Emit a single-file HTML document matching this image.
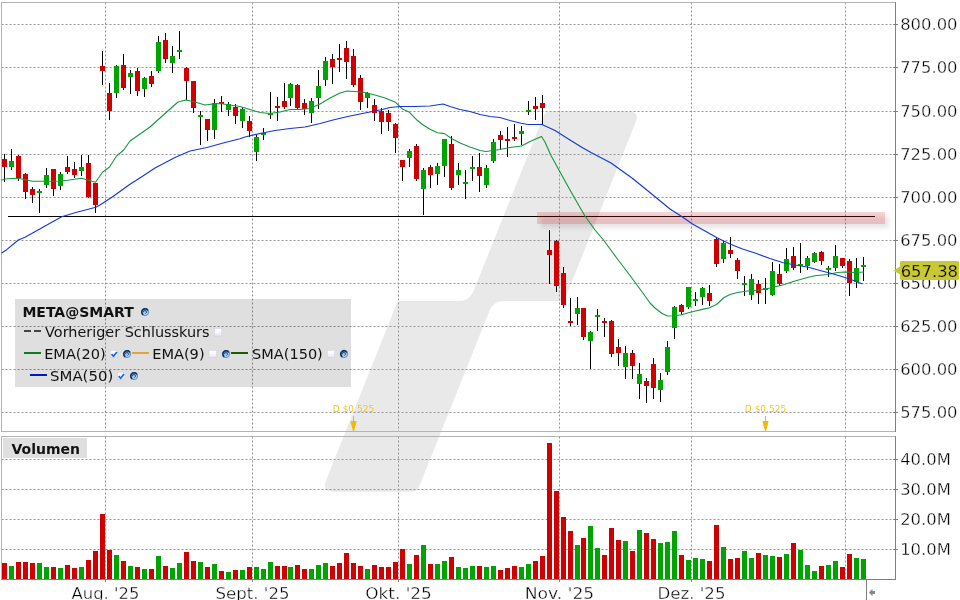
<!DOCTYPE html><html><head><meta charset="utf-8"><title>META Chart</title>
<style>html,body{margin:0;padding:0;background:#fff;}body{width:960px;height:600px;overflow:hidden;position:relative;font-family:"DejaVu Sans","Liberation Sans",sans-serif;}svg{position:absolute;left:0;top:0;display:block}text{font-family:"DejaVu Sans","Liberation Sans",sans-serif;}</style></head><body>
<svg width="960" height="600" viewBox="0 0 960 600">
<defs><filter id="sh" x="-5%" y="-50%" width="110%" height="250%"><feGaussianBlur stdDeviation="2"/></filter>
<radialGradient id="gl" cx="0.65" cy="0.7" r="0.75"><stop offset="0" stop-color="#c4e0f8"/><stop offset="0.55" stop-color="#84b6e4"/><stop offset="1" stop-color="#3c70b0"/></radialGradient><linearGradient id="cbg" x1="0" y1="0" x2="0" y2="1"><stop offset="0" stop-color="#ffffff"/><stop offset="0.45" stop-color="#f8f8ff"/><stop offset="1" stop-color="#e0e0f6"/></linearGradient></defs>
<rect width="960" height="600" fill="#fff"/>
<path d="M543.5 116.2 Q545.5 111.2 550.9 111.2 L628.2 111.2 Q640.0 111.2 635.6 122.2 L564.9 299.1 Q564.1 301.0 562.1 301.0 L504.2 301.0 Q493.4 301.0 489.4 311.1 L419.1 486.7 Q417.1 491.7 411.7 491.7 L333.3 491.7 Q321.5 491.7 325.9 480.7 L396.8 303.5 Q397.8 301.0 400.5 301.0 L458.8 301.0 Q469.6 301.0 473.6 290.9 Z" fill="#e9e9e9"/>
<g stroke="#949494" stroke-width="1" stroke-dasharray="2 2">
<line x1="1.500" y1="24.5" x2="895" y2="24.5"/>
<line x1="1.500" y1="67.5" x2="895" y2="67.5"/>
<line x1="1.500" y1="111.5" x2="895" y2="111.5"/>
<line x1="1.500" y1="154.5" x2="895" y2="154.5"/>
<line x1="1.500" y1="197.5" x2="895" y2="197.5"/>
<line x1="1.500" y1="240.5" x2="895" y2="240.5"/>
<line x1="1.500" y1="283.5" x2="895" y2="283.5"/>
<line x1="1.500" y1="326.5" x2="895" y2="326.5"/>
<line x1="1.500" y1="369.5" x2="895" y2="369.5"/>
<line x1="1.500" y1="412.5" x2="895" y2="412.5"/>
<line x1="1.500" y1="459.5" x2="895" y2="459.5"/>
<line x1="1.500" y1="489.5" x2="895" y2="489.5"/>
<line x1="1.500" y1="519.5" x2="895" y2="519.5"/>
<line x1="1.500" y1="549.5" x2="895" y2="549.5"/>
<line x1="105.5" y1="2.500" x2="105.5" y2="431"/>
<line x1="105.5" y1="436.500" x2="105.5" y2="579"/>
<line x1="252.5" y1="2.500" x2="252.5" y2="431"/>
<line x1="252.5" y1="436.500" x2="252.5" y2="579"/>
<line x1="398.5" y1="2.500" x2="398.5" y2="431"/>
<line x1="398.5" y1="436.500" x2="398.5" y2="579"/>
<line x1="559.5" y1="2.500" x2="559.5" y2="431"/>
<line x1="559.5" y1="436.500" x2="559.5" y2="579"/>
<line x1="691.5" y1="2.500" x2="691.5" y2="431"/>
<line x1="691.5" y1="436.500" x2="691.5" y2="579"/>
<line x1="845.5" y1="2.500" x2="845.5" y2="431"/>
<line x1="845.5" y1="436.500" x2="845.5" y2="579"/>
</g>
<g shape-rendering="crispEdges">
<rect x="1" y="2" width="895" height="1" fill="#b4b4b4"/>
<rect x="1" y="2" width="1" height="430" fill="#b4b4b4"/>
<rect x="1" y="431" width="895" height="1" fill="#b4b4b4"/>
<rect x="1" y="436" width="895" height="1" fill="#b4b4b4"/>
<rect x="1" y="436" width="1" height="144" fill="#b4b4b4"/>
<rect x="895" y="2" width="1" height="430" fill="#808080"/>
<rect x="895" y="436" width="1" height="144" fill="#808080"/>
<rect x="1" y="579" width="895" height="1" fill="#808080"/>
<rect x="893" y="24" width="5" height="1" fill="#808080"/>
<rect x="893" y="67" width="5" height="1" fill="#808080"/>
<rect x="893" y="111" width="5" height="1" fill="#808080"/>
<rect x="893" y="154" width="5" height="1" fill="#808080"/>
<rect x="893" y="197" width="5" height="1" fill="#808080"/>
<rect x="893" y="240" width="5" height="1" fill="#808080"/>
<rect x="893" y="283" width="5" height="1" fill="#808080"/>
<rect x="893" y="326" width="5" height="1" fill="#808080"/>
<rect x="893" y="369" width="5" height="1" fill="#808080"/>
<rect x="893" y="412" width="5" height="1" fill="#808080"/>
<rect x="893" y="459" width="5" height="1" fill="#808080"/>
<rect x="893" y="489" width="5" height="1" fill="#808080"/>
<rect x="893" y="519" width="5" height="1" fill="#808080"/>
<rect x="893" y="549" width="5" height="1" fill="#808080"/>
<rect x="105" y="579" width="1" height="3" fill="#808080"/>
<rect x="252" y="579" width="1" height="3" fill="#808080"/>
<rect x="398" y="579" width="1" height="3" fill="#808080"/>
<rect x="559" y="579" width="1" height="3" fill="#808080"/>
<rect x="691" y="579" width="1" height="3" fill="#808080"/>
<rect x="866" y="579" width="1" height="21" fill="#808080"/>
<rect x="2" y="563" width="5" height="16" fill="#d00000"/>
<rect x="9" y="566" width="5" height="13" fill="#00a400"/>
<rect x="16" y="562" width="5" height="17" fill="#d00000"/>
<rect x="23" y="562" width="5" height="17" fill="#d00000"/>
<rect x="30" y="563" width="5" height="16" fill="#d00000"/>
<rect x="37" y="563" width="5" height="16" fill="#00a400"/>
<rect x="44" y="567" width="5" height="12" fill="#00a400"/>
<rect x="51" y="567" width="5" height="12" fill="#d00000"/>
<rect x="58" y="568" width="5" height="11" fill="#00a400"/>
<rect x="65" y="565" width="5" height="14" fill="#d00000"/>
<rect x="72" y="568" width="5" height="11" fill="#d00000"/>
<rect x="79" y="567" width="5" height="12" fill="#00a400"/>
<rect x="86" y="560" width="5" height="19" fill="#d00000"/>
<rect x="93" y="551" width="5" height="28" fill="#d00000"/>
<rect x="100" y="514" width="5" height="65" fill="#d00000"/>
<rect x="107" y="550" width="5" height="29" fill="#d00000"/>
<rect x="114" y="555" width="5" height="24" fill="#00a400"/>
<rect x="121" y="561" width="5" height="18" fill="#d00000"/>
<rect x="128" y="566" width="5" height="13" fill="#00a400"/>
<rect x="135" y="567" width="5" height="12" fill="#d00000"/>
<rect x="142" y="569" width="5" height="10" fill="#00a400"/>
<rect x="149" y="569" width="5" height="10" fill="#d00000"/>
<rect x="156" y="556" width="5" height="23" fill="#00a400"/>
<rect x="163" y="566" width="5" height="13" fill="#d00000"/>
<rect x="170" y="568" width="5" height="11" fill="#00a400"/>
<rect x="177" y="563" width="5" height="16" fill="#00a400"/>
<rect x="184" y="552" width="5" height="27" fill="#d00000"/>
<rect x="191" y="561" width="5" height="18" fill="#d00000"/>
<rect x="198" y="562" width="5" height="17" fill="#00a400"/>
<rect x="205" y="567" width="5" height="12" fill="#d00000"/>
<rect x="212" y="564" width="5" height="15" fill="#00a400"/>
<rect x="219" y="571" width="5" height="8" fill="#d00000"/>
<rect x="226" y="572" width="5" height="7" fill="#00a400"/>
<rect x="233" y="570" width="5" height="9" fill="#d00000"/>
<rect x="240" y="570" width="5" height="9" fill="#00a400"/>
<rect x="247" y="567" width="5" height="12" fill="#d00000"/>
<rect x="254" y="567" width="5" height="12" fill="#00a400"/>
<rect x="261" y="569" width="5" height="10" fill="#00a400"/>
<rect x="268" y="562" width="5" height="17" fill="#00a400"/>
<rect x="275" y="566" width="5" height="13" fill="#d00000"/>
<rect x="282" y="566" width="5" height="13" fill="#d00000"/>
<rect x="288" y="567" width="5" height="12" fill="#00a400"/>
<rect x="295" y="565" width="5" height="14" fill="#d00000"/>
<rect x="302" y="569" width="5" height="10" fill="#d00000"/>
<rect x="309" y="569" width="5" height="10" fill="#00a400"/>
<rect x="316" y="565" width="5" height="14" fill="#00a400"/>
<rect x="323" y="563" width="5" height="16" fill="#00a400"/>
<rect x="330" y="566" width="5" height="13" fill="#d00000"/>
<rect x="337" y="563" width="5" height="16" fill="#d00000"/>
<rect x="344" y="553" width="5" height="26" fill="#d00000"/>
<rect x="351" y="563" width="5" height="16" fill="#d00000"/>
<rect x="358" y="566" width="5" height="13" fill="#d00000"/>
<rect x="365" y="569" width="5" height="10" fill="#00a400"/>
<rect x="372" y="565" width="5" height="14" fill="#d00000"/>
<rect x="379" y="567" width="5" height="12" fill="#d00000"/>
<rect x="386" y="567" width="5" height="12" fill="#d00000"/>
<rect x="393" y="562" width="5" height="17" fill="#d00000"/>
<rect x="400" y="549" width="5" height="30" fill="#d00000"/>
<rect x="407" y="564" width="5" height="15" fill="#00a400"/>
<rect x="414" y="555" width="5" height="24" fill="#d00000"/>
<rect x="421" y="545" width="5" height="34" fill="#00a400"/>
<rect x="428" y="564" width="5" height="15" fill="#d00000"/>
<rect x="435" y="564" width="5" height="15" fill="#00a400"/>
<rect x="442" y="561" width="5" height="18" fill="#00a400"/>
<rect x="449" y="557" width="5" height="22" fill="#d00000"/>
<rect x="456" y="567" width="5" height="12" fill="#00a400"/>
<rect x="463" y="568" width="5" height="11" fill="#00a400"/>
<rect x="470" y="566" width="5" height="13" fill="#00a400"/>
<rect x="477" y="566" width="5" height="13" fill="#d00000"/>
<rect x="484" y="567" width="5" height="12" fill="#00a400"/>
<rect x="491" y="566" width="5" height="13" fill="#00a400"/>
<rect x="498" y="570" width="5" height="9" fill="#d00000"/>
<rect x="505" y="568" width="5" height="11" fill="#d00000"/>
<rect x="512" y="566" width="5" height="13" fill="#d00000"/>
<rect x="519" y="567" width="5" height="12" fill="#00a400"/>
<rect x="526" y="564" width="5" height="15" fill="#00a400"/>
<rect x="533" y="561" width="5" height="18" fill="#d00000"/>
<rect x="540" y="556" width="5" height="23" fill="#d00000"/>
<rect x="547" y="443" width="5" height="136" fill="#d00000"/>
<rect x="554" y="491" width="5" height="88" fill="#d00000"/>
<rect x="561" y="517" width="5" height="62" fill="#d00000"/>
<rect x="568" y="531" width="5" height="48" fill="#d00000"/>
<rect x="575" y="545" width="5" height="34" fill="#00a400"/>
<rect x="581" y="538" width="5" height="41" fill="#d00000"/>
<rect x="588" y="526" width="5" height="53" fill="#00a400"/>
<rect x="595" y="548" width="5" height="31" fill="#00a400"/>
<rect x="602" y="555" width="5" height="24" fill="#d00000"/>
<rect x="609" y="528" width="5" height="51" fill="#d00000"/>
<rect x="616" y="540" width="5" height="39" fill="#d00000"/>
<rect x="623" y="541" width="5" height="38" fill="#00a400"/>
<rect x="630" y="551" width="5" height="28" fill="#d00000"/>
<rect x="637" y="530" width="5" height="49" fill="#00a400"/>
<rect x="644" y="533" width="5" height="46" fill="#d00000"/>
<rect x="651" y="539" width="5" height="40" fill="#d00000"/>
<rect x="658" y="543" width="5" height="36" fill="#00a400"/>
<rect x="665" y="542" width="5" height="37" fill="#00a400"/>
<rect x="672" y="531" width="5" height="48" fill="#00a400"/>
<rect x="679" y="555" width="5" height="24" fill="#d00000"/>
<rect x="686" y="560" width="5" height="19" fill="#00a400"/>
<rect x="693" y="558" width="5" height="21" fill="#00a400"/>
<rect x="700" y="559" width="5" height="20" fill="#00a400"/>
<rect x="707" y="561" width="5" height="18" fill="#d00000"/>
<rect x="714" y="525" width="5" height="54" fill="#d00000"/>
<rect x="721" y="547" width="5" height="32" fill="#00a400"/>
<rect x="728" y="559" width="5" height="20" fill="#d00000"/>
<rect x="735" y="558" width="5" height="21" fill="#d00000"/>
<rect x="742" y="551" width="5" height="28" fill="#00a400"/>
<rect x="749" y="558" width="5" height="21" fill="#00a400"/>
<rect x="756" y="553" width="5" height="26" fill="#d00000"/>
<rect x="763" y="555" width="5" height="24" fill="#00a400"/>
<rect x="770" y="556" width="5" height="23" fill="#00a400"/>
<rect x="777" y="557" width="5" height="22" fill="#d00000"/>
<rect x="784" y="554" width="5" height="25" fill="#00a400"/>
<rect x="791" y="543" width="5" height="36" fill="#d00000"/>
<rect x="798" y="550" width="5" height="29" fill="#00a400"/>
<rect x="805" y="565" width="5" height="14" fill="#00a400"/>
<rect x="812" y="571" width="5" height="8" fill="#00a400"/>
<rect x="819" y="566" width="5" height="13" fill="#d00000"/>
<rect x="826" y="565" width="5" height="14" fill="#00a400"/>
<rect x="833" y="561" width="5" height="18" fill="#00a400"/>
<rect x="840" y="567" width="5" height="12" fill="#d00000"/>
<rect x="847" y="554" width="5" height="25" fill="#d00000"/>
<rect x="854" y="558" width="5" height="21" fill="#00a400"/>
<rect x="861" y="559" width="5" height="20" fill="#00a400"/>
</g>
<rect x="8" y="216" width="867" height="1" fill="#000" shape-rendering="crispEdges"/>
<rect x="541" y="216" width="348" height="12" fill="#000" opacity="0.095" filter="url(#sh)"/>
<rect x="537" y="212" width="348" height="12" fill="#e62828" fill-opacity="0.20" shape-rendering="crispEdges"/>
<g shape-rendering="crispEdges">
<rect x="4" y="154" width="1" height="28" fill="#000"/>
<rect x="2" y="159" width="5" height="8" fill="#d00000"/>
<rect x="11" y="149" width="1" height="21" fill="#000"/>
<rect x="9" y="161" width="5" height="6" fill="#00a400"/>
<rect x="18" y="154.5" width="1" height="26" fill="#000"/>
<rect x="16" y="156" width="5" height="22" fill="#d00000"/>
<rect x="25" y="173" width="1" height="26" fill="#000"/>
<rect x="23" y="174" width="5" height="18" fill="#d00000"/>
<rect x="32" y="187" width="1" height="16" fill="#000"/>
<rect x="30" y="189" width="5" height="6" fill="#d00000"/>
<rect x="39" y="189" width="1" height="24" fill="#000"/>
<rect x="37" y="190.5" width="5" height="2.5" fill="#00a400"/>
<rect x="46" y="167.5" width="1" height="20.5" fill="#000"/>
<rect x="44" y="175" width="5" height="10" fill="#00a400"/>
<rect x="53" y="169" width="1" height="27" fill="#000"/>
<rect x="51" y="169" width="5" height="20" fill="#d00000"/>
<rect x="60" y="172" width="1" height="18" fill="#000"/>
<rect x="58" y="174" width="5" height="12" fill="#00a400"/>
<rect x="67" y="156" width="1" height="18" fill="#000"/>
<rect x="65" y="167" width="5" height="5" fill="#d00000"/>
<rect x="74" y="162" width="1" height="15.5" fill="#000"/>
<rect x="72" y="169" width="5" height="6" fill="#d00000"/>
<rect x="81" y="155" width="1" height="21" fill="#000"/>
<rect x="79" y="167" width="5" height="4" fill="#00a400"/>
<rect x="88" y="155" width="1" height="42.5" fill="#000"/>
<rect x="86" y="163" width="5" height="34" fill="#d00000"/>
<rect x="95" y="182.5" width="1" height="30.5" fill="#000"/>
<rect x="93" y="183" width="5" height="22" fill="#d00000"/>
<rect x="102" y="51" width="1" height="34" fill="#000"/>
<rect x="100" y="66" width="5" height="5" fill="#d00000"/>
<rect x="109" y="83" width="1" height="36.5" fill="#000"/>
<rect x="107" y="93" width="5" height="18" fill="#d00000"/>
<rect x="116" y="65" width="1" height="32.5" fill="#000"/>
<rect x="114" y="65.5" width="5" height="27.5" fill="#00a400"/>
<rect x="123" y="54" width="1" height="35.5" fill="#000"/>
<rect x="121" y="65" width="5" height="23" fill="#d00000"/>
<rect x="130" y="70" width="1" height="24" fill="#000"/>
<rect x="128" y="73" width="5" height="4" fill="#00a400"/>
<rect x="137" y="67.5" width="1" height="28" fill="#000"/>
<rect x="135" y="71" width="5" height="20" fill="#d00000"/>
<rect x="144" y="77" width="1" height="20" fill="#000"/>
<rect x="142" y="78" width="5" height="11" fill="#00a400"/>
<rect x="151" y="71" width="1" height="16" fill="#000"/>
<rect x="149" y="76" width="5" height="8" fill="#d00000"/>
<rect x="158" y="36" width="1" height="37" fill="#000"/>
<rect x="156" y="42" width="5" height="29" fill="#00a400"/>
<rect x="165" y="32.5" width="1" height="30" fill="#000"/>
<rect x="163" y="40" width="5" height="19" fill="#d00000"/>
<rect x="172" y="46" width="1" height="27" fill="#000"/>
<rect x="170" y="56" width="5" height="7" fill="#00a400"/>
<rect x="179" y="31" width="1" height="28" fill="#000"/>
<rect x="177" y="50" width="5" height="2" fill="#00a400"/>
<rect x="186" y="67" width="1" height="33" fill="#000"/>
<rect x="184" y="67.5" width="5" height="13.5" fill="#d00000"/>
<rect x="193" y="81" width="1" height="31.5" fill="#000"/>
<rect x="191" y="81" width="5" height="27" fill="#d00000"/>
<rect x="200" y="111" width="1" height="34" fill="#000"/>
<rect x="198" y="115" width="5" height="2" fill="#00a400"/>
<rect x="207" y="119" width="1" height="22" fill="#000"/>
<rect x="205" y="119" width="5" height="11" fill="#d00000"/>
<rect x="214" y="99" width="1" height="40" fill="#000"/>
<rect x="212" y="103" width="5" height="27" fill="#00a400"/>
<rect x="221" y="96" width="1" height="16" fill="#000"/>
<rect x="219" y="102" width="5" height="2" fill="#d00000"/>
<rect x="228" y="102" width="1" height="14" fill="#000"/>
<rect x="226" y="104" width="5" height="6" fill="#00a400"/>
<rect x="235" y="104" width="1" height="20" fill="#000"/>
<rect x="233" y="107" width="5" height="9" fill="#d00000"/>
<rect x="242" y="107" width="1" height="21" fill="#000"/>
<rect x="240" y="109" width="5" height="12" fill="#00a400"/>
<rect x="249" y="116" width="1" height="21" fill="#000"/>
<rect x="247" y="121" width="5" height="10" fill="#d00000"/>
<rect x="256" y="135" width="1" height="26" fill="#000"/>
<rect x="254" y="137" width="5" height="15" fill="#00a400"/>
<rect x="263" y="128" width="1" height="12" fill="#000"/>
<rect x="261" y="133" width="5" height="1.5" fill="#00a400"/>
<rect x="270" y="92" width="1" height="27" fill="#000"/>
<rect x="268" y="113" width="5" height="2" fill="#00a400"/>
<rect x="277" y="97" width="1" height="24" fill="#000"/>
<rect x="275" y="106" width="5" height="2" fill="#d00000"/>
<rect x="284" y="83" width="1" height="26" fill="#000"/>
<rect x="282" y="101" width="5" height="6" fill="#d00000"/>
<rect x="290" y="82.5" width="1" height="23.5" fill="#000"/>
<rect x="288" y="84" width="5" height="14" fill="#00a400"/>
<rect x="297" y="83.5" width="1" height="26" fill="#000"/>
<rect x="295" y="85" width="5" height="23" fill="#d00000"/>
<rect x="304" y="99" width="1" height="16" fill="#000"/>
<rect x="302" y="103" width="5" height="6" fill="#d00000"/>
<rect x="311" y="97.5" width="1" height="25.5" fill="#000"/>
<rect x="309" y="101" width="5" height="12" fill="#00a400"/>
<rect x="318" y="70" width="1" height="39" fill="#000"/>
<rect x="316" y="86" width="5" height="12" fill="#00a400"/>
<rect x="325" y="57" width="1" height="29" fill="#000"/>
<rect x="323" y="61" width="5" height="19" fill="#00a400"/>
<rect x="332" y="54" width="1" height="30" fill="#000"/>
<rect x="330" y="59" width="5" height="8" fill="#d00000"/>
<rect x="339" y="44" width="1" height="28" fill="#000"/>
<rect x="337" y="58" width="5" height="2" fill="#d00000"/>
<rect x="346" y="41" width="1" height="38" fill="#000"/>
<rect x="344" y="48" width="5" height="14" fill="#d00000"/>
<rect x="353" y="49" width="1" height="38" fill="#000"/>
<rect x="351" y="56" width="5" height="29" fill="#d00000"/>
<rect x="360" y="75" width="1" height="35" fill="#000"/>
<rect x="358" y="78" width="5" height="24" fill="#d00000"/>
<rect x="367" y="92" width="1" height="16" fill="#000"/>
<rect x="365" y="93" width="5" height="5" fill="#00a400"/>
<rect x="374" y="99" width="1" height="22" fill="#000"/>
<rect x="372" y="105" width="5" height="8" fill="#d00000"/>
<rect x="381" y="108" width="1" height="26" fill="#000"/>
<rect x="379" y="111" width="5" height="11" fill="#d00000"/>
<rect x="388" y="110" width="1" height="21" fill="#000"/>
<rect x="386" y="113" width="5" height="9" fill="#d00000"/>
<rect x="395" y="123" width="1" height="30" fill="#000"/>
<rect x="393" y="124" width="5" height="14" fill="#d00000"/>
<rect x="402" y="160" width="1" height="21" fill="#000"/>
<rect x="400" y="160" width="5" height="7" fill="#d00000"/>
<rect x="409" y="149" width="1" height="18" fill="#000"/>
<rect x="407" y="151" width="5" height="7" fill="#00a400"/>
<rect x="416" y="144" width="1" height="37" fill="#000"/>
<rect x="414" y="146" width="5" height="33" fill="#d00000"/>
<rect x="423" y="168" width="1" height="47" fill="#000"/>
<rect x="421" y="170" width="5" height="19" fill="#00a400"/>
<rect x="430" y="165" width="1" height="23" fill="#000"/>
<rect x="428" y="167" width="5" height="8" fill="#d00000"/>
<rect x="437" y="163" width="1" height="22" fill="#000"/>
<rect x="435" y="166" width="5" height="8" fill="#00a400"/>
<rect x="444" y="139" width="1" height="38" fill="#000"/>
<rect x="442" y="139" width="5" height="27" fill="#00a400"/>
<rect x="451" y="136" width="1" height="54" fill="#000"/>
<rect x="449" y="144" width="5" height="44" fill="#d00000"/>
<rect x="458" y="163" width="1" height="22" fill="#000"/>
<rect x="456" y="170" width="5" height="5" fill="#00a400"/>
<rect x="465" y="170" width="1" height="29" fill="#000"/>
<rect x="463" y="182" width="5" height="2" fill="#00a400"/>
<rect x="472" y="156" width="1" height="25" fill="#000"/>
<rect x="470" y="167" width="5" height="2" fill="#00a400"/>
<rect x="479" y="153" width="1" height="39" fill="#000"/>
<rect x="477" y="167" width="5" height="9" fill="#d00000"/>
<rect x="486" y="165" width="1" height="23" fill="#000"/>
<rect x="484" y="168" width="5" height="17" fill="#00a400"/>
<rect x="493" y="139" width="1" height="24" fill="#000"/>
<rect x="491" y="142" width="5" height="19" fill="#00a400"/>
<rect x="500" y="131" width="1" height="19" fill="#000"/>
<rect x="498" y="135" width="5" height="5" fill="#d00000"/>
<rect x="507" y="127" width="1" height="30" fill="#000"/>
<rect x="505" y="139" width="5" height="2" fill="#d00000"/>
<rect x="514" y="124" width="1" height="17" fill="#000"/>
<rect x="512" y="137" width="5" height="2" fill="#d00000"/>
<rect x="521" y="126" width="1" height="19" fill="#000"/>
<rect x="519" y="131" width="5" height="3" fill="#00a400"/>
<rect x="528" y="101" width="1" height="14" fill="#000"/>
<rect x="526" y="110" width="5" height="2" fill="#00a400"/>
<rect x="535" y="97" width="1" height="23" fill="#000"/>
<rect x="533" y="106" width="5" height="3" fill="#d00000"/>
<rect x="542" y="95" width="1" height="30" fill="#000"/>
<rect x="540" y="103" width="5" height="5" fill="#d00000"/>
<rect x="549" y="230" width="1" height="54" fill="#000"/>
<rect x="547" y="250" width="5" height="5" fill="#d00000"/>
<rect x="556" y="240" width="1" height="52" fill="#000"/>
<rect x="554" y="241" width="5" height="45" fill="#d00000"/>
<rect x="563" y="267" width="1" height="41" fill="#000"/>
<rect x="561" y="273" width="5" height="32" fill="#d00000"/>
<rect x="570" y="298" width="1" height="28" fill="#000"/>
<rect x="568" y="321" width="5" height="2" fill="#d00000"/>
<rect x="577" y="297" width="1" height="28" fill="#000"/>
<rect x="575" y="308" width="5" height="6" fill="#00a400"/>
<rect x="583" y="308" width="1" height="32" fill="#000"/>
<rect x="581" y="308" width="5" height="29" fill="#d00000"/>
<rect x="590" y="331" width="1" height="38" fill="#000"/>
<rect x="588" y="332" width="5" height="9" fill="#00a400"/>
<rect x="597" y="309" width="1" height="22" fill="#000"/>
<rect x="595" y="315" width="5" height="2" fill="#00a400"/>
<rect x="604" y="318" width="1" height="19" fill="#000"/>
<rect x="602" y="321" width="5" height="2" fill="#d00000"/>
<rect x="611" y="320" width="1" height="37" fill="#000"/>
<rect x="609" y="321" width="5" height="33" fill="#d00000"/>
<rect x="618" y="339" width="1" height="27" fill="#000"/>
<rect x="616" y="347" width="5" height="6" fill="#d00000"/>
<rect x="625" y="346" width="1" height="33" fill="#000"/>
<rect x="623" y="353" width="5" height="14" fill="#00a400"/>
<rect x="632" y="350" width="1" height="29" fill="#000"/>
<rect x="630" y="353" width="5" height="13" fill="#d00000"/>
<rect x="639" y="363" width="1" height="36" fill="#000"/>
<rect x="637" y="374" width="5" height="10" fill="#00a400"/>
<rect x="646" y="378" width="1" height="25" fill="#000"/>
<rect x="644" y="381" width="5" height="5" fill="#d00000"/>
<rect x="653" y="358" width="1" height="41" fill="#000"/>
<rect x="651" y="364" width="5" height="24" fill="#d00000"/>
<rect x="660" y="373" width="1" height="29" fill="#000"/>
<rect x="658" y="380" width="5" height="10" fill="#00a400"/>
<rect x="667" y="341" width="1" height="34" fill="#000"/>
<rect x="665" y="347" width="5" height="25" fill="#00a400"/>
<rect x="674" y="306" width="1" height="33" fill="#000"/>
<rect x="672" y="307" width="5" height="21" fill="#00a400"/>
<rect x="681" y="304" width="1" height="11" fill="#000"/>
<rect x="679" y="305" width="5" height="7" fill="#d00000"/>
<rect x="688" y="287" width="1" height="22" fill="#000"/>
<rect x="686" y="287" width="5" height="20" fill="#00a400"/>
<rect x="695" y="292" width="1" height="14" fill="#000"/>
<rect x="693" y="299" width="5" height="2" fill="#00a400"/>
<rect x="702" y="287" width="1" height="18" fill="#000"/>
<rect x="700" y="288" width="5" height="9" fill="#00a400"/>
<rect x="709" y="285" width="1" height="21" fill="#000"/>
<rect x="707" y="293" width="5" height="8" fill="#d00000"/>
<rect x="716" y="237" width="1" height="30" fill="#000"/>
<rect x="714" y="239" width="5" height="25" fill="#d00000"/>
<rect x="723" y="240.5" width="1" height="22.5" fill="#000"/>
<rect x="721" y="243" width="5" height="16" fill="#00a400"/>
<rect x="730" y="237" width="1" height="21" fill="#000"/>
<rect x="728" y="250" width="5" height="4" fill="#d00000"/>
<rect x="737" y="258" width="1" height="21" fill="#000"/>
<rect x="735" y="260" width="5" height="11" fill="#d00000"/>
<rect x="744" y="276" width="1" height="20" fill="#000"/>
<rect x="742" y="283" width="5" height="2" fill="#00a400"/>
<rect x="751" y="274" width="1" height="26" fill="#000"/>
<rect x="749" y="279" width="5" height="16" fill="#00a400"/>
<rect x="758" y="280" width="1" height="24" fill="#000"/>
<rect x="756" y="284" width="5" height="9" fill="#d00000"/>
<rect x="765" y="278" width="1" height="26" fill="#000"/>
<rect x="763" y="288" width="5" height="2" fill="#00a400"/>
<rect x="772" y="262" width="1" height="34" fill="#000"/>
<rect x="770" y="271" width="5" height="24" fill="#00a400"/>
<rect x="779" y="264" width="1" height="22" fill="#000"/>
<rect x="777" y="274" width="5" height="10" fill="#d00000"/>
<rect x="786" y="248" width="1" height="25" fill="#000"/>
<rect x="784" y="259" width="5" height="12" fill="#00a400"/>
<rect x="793" y="247" width="1" height="23" fill="#000"/>
<rect x="791" y="256" width="5" height="12" fill="#d00000"/>
<rect x="800" y="243" width="1" height="30" fill="#000"/>
<rect x="798" y="264" width="5" height="2" fill="#00a400"/>
<rect x="807" y="256" width="1" height="14" fill="#000"/>
<rect x="805" y="258" width="5" height="8" fill="#00a400"/>
<rect x="814" y="252" width="1" height="11" fill="#000"/>
<rect x="812" y="253" width="5" height="9" fill="#00a400"/>
<rect x="821" y="251" width="1" height="14" fill="#000"/>
<rect x="819" y="252" width="5" height="9" fill="#d00000"/>
<rect x="828" y="266" width="1" height="11" fill="#000"/>
<rect x="826" y="268" width="5" height="2" fill="#00a400"/>
<rect x="835" y="245" width="1" height="26" fill="#000"/>
<rect x="833" y="256" width="5" height="12" fill="#00a400"/>
<rect x="842" y="258" width="1" height="10" fill="#000"/>
<rect x="840" y="258" width="5" height="8" fill="#d00000"/>
<rect x="849" y="259" width="1" height="37" fill="#000"/>
<rect x="847" y="261" width="5" height="22" fill="#d00000"/>
<rect x="856" y="258" width="1" height="30" fill="#000"/>
<rect x="854" y="268" width="5" height="14" fill="#00a400"/>
<rect x="863" y="257" width="1" height="24" fill="#000"/>
<rect x="861" y="265" width="5" height="2" fill="#00a400"/>
</g>
<polyline fill="none" stroke="#12983e" stroke-width="1.1" stroke-linejoin="round" points="1.5,180.3 4.5,179 11.5,178.5 18.5,178.3 25.5,179.8 32.5,181.3 46.5,181.3 60.5,181 67.5,180.3 74.5,179.3 81.5,178.3 88.5,180.3 95.5,182.2 102.5,172.3 109.5,167 116.5,156 123.5,150.3 130,141 140,134 150,127 160,118 170,109 178,102 186,100 195,102 205,105 213,104 220,103.5 230,105 240,106.5 250,109.5 260,112.5 270,113.5 280,112 290,109.5 300,109.5 310,108.5 320,104 330,98 340,93 347,91 355,91.5 365,92.5 375,95 385,98 395.5,102.3 402.5,109 409.5,112.3 416.5,119.7 423.5,125.3 430.5,129.5 437.5,132.7 444.5,133.6 451.5,138.5 460,143 470,147 480,150.5 486,151.5 493,150.5 500,149.5 510,147.5 521.5,146 530,141.5 541.5,136.5 545,142 551,155.5 560,172 570,190 580,207.5 585,216 595,230 603.5,240 616.7,258 630,275.5 642.5,292.5 650,303 655,308 662,313.5 667.5,316 674.5,315.7 681.5,314.7 688.5,312.7 695.5,311 702.5,309.4 709.5,307.8 716.5,304.5 724,297.5 730,294.5 737.5,292.5 747.5,291 760,290 770,288 782.5,285 795,281 807.5,277.5 815,275.75 827.5,274.5 837.5,272.5 845,272 855,272.5 864,272"/>
<polyline fill="none" stroke="#1038d8" stroke-width="1.1" stroke-linejoin="round" points="1.5,253 6.7,249.7 18.3,240 25,237.3 43.3,227 61.7,216.7 76.7,212.3 88.3,209.2 95.8,207.3 100,205 113.3,196.3 130,184.2 143.3,175.8 155,168 175,157.5 190,151 207,147.5 225,142.5 240,138.75 245,137 260,133.5 275,130.5 290,128.5 305,127 320,123.5 335,119.5 350,116 365,113 380,110 390,107.5 400,106.5 415,106.5 430,106 443,104 450,106.5 460,109.5 470,111.5 480,114.5 490,116.5 500,117.5 510,120.5 521,123.3 528,124.5 542,124.5 555,130.5 570,140 583,148 591,152.5 611,163 632,178 645,188.5 659,200 670,209 682.5,217 692.5,224 705,231 717.5,238 730,244 742.5,249 755,253 770,258.5 782.5,262.5 795,265 807.5,267 820,270.5 832.5,273.75 845,277.5 855,281 862.5,284"/>
<text x="353.5" y="411.5" font-size="9" text-anchor="middle" fill="#fbc316">D $0.525</text>
<path d="M353.5 416 V424 M353.5 431 L350.9 421.5 H356.1 Z" stroke="#f5b800" stroke-width="1" fill="#f5b800"/>
<text x="765.5" y="411.5" font-size="9" text-anchor="middle" fill="#fbc316">D $0.525</text>
<path d="M765.5 416 V424 M765.5 431 L762.9 421.5 H768.1 Z" stroke="#f5b800" stroke-width="1" fill="#f5b800"/>
<rect x="15" y="299" width="336" height="87.500" fill="#000" fill-opacity="0.125" shape-rendering="crispEdges"/>
<text x="22.400" y="316.500" font-size="14" font-weight="bold" fill="#111">META@SMART</text>
<text x="45.100" y="337" font-size="14" textLength="164.400" lengthAdjust="spacingAndGlyphs" fill="#111">Vorheriger Schlusskurs</text>
<text x="44.200" y="359" font-size="14" textLength="61.500" lengthAdjust="spacingAndGlyphs" fill="#111">EMA(20)</text>
<text x="152.200" y="359" font-size="14" textLength="52.400" lengthAdjust="spacingAndGlyphs" fill="#111">EMA(9)</text>
<text x="252.100" y="359" font-size="14" textLength="70.700" lengthAdjust="spacingAndGlyphs" fill="#111">SMA(150)</text>
<text x="50.100" y="381" font-size="14" textLength="63.100" lengthAdjust="spacingAndGlyphs" fill="#111">SMA(50)</text>
<g shape-rendering="crispEdges">
<rect x="24" y="330" width="7" height="2" fill="#444"/><rect x="34" y="330" width="7" height="2" fill="#444"/>
<rect x="24" y="352" width="17" height="2" fill="#0a7d1e"/>
<rect x="132" y="352" width="17" height="2" fill="#e0a63a"/>
<rect x="231" y="352" width="17" height="2" fill="#1e5a00"/>
<rect x="30" y="374" width="17" height="2" fill="#0018c0"/>
</g>
<circle cx="145" cy="312" r="3.700" fill="url(#gl)" stroke="#3a6fae" stroke-width="0.6"/>
<path d="M142.7 314.4 A3.300 3.300 0 0 1 147.6 309.9" fill="none" stroke="#17325c" stroke-width="1.500" stroke-linecap="round"/>
<path d="M143.3 311.7 a1.600 1.600 0 1 1 2.200 1.900" fill="none" stroke="#1b3a68" stroke-width="1"/>
<rect x="214.3" y="328.6" width="7.500" height="7.500" fill="url(#cbg)" stroke="#cdcddd" stroke-width="0.5"/>
<rect x="110.3" y="350.3" width="7.500" height="7.500" fill="url(#cbg)" stroke="#cdcddd" stroke-width="0.5"/>
<path d="M111.5 354.1 l2 2.200 l3.400 -4.400" fill="none" stroke="#1466e8" stroke-width="1.700"/>
<circle cx="127" cy="354" r="3.700" fill="url(#gl)" stroke="#3a6fae" stroke-width="0.6"/>
<path d="M124.7 356.4 A3.300 3.300 0 0 1 129.6 351.9" fill="none" stroke="#17325c" stroke-width="1.500" stroke-linecap="round"/>
<path d="M125.3 353.7 a1.600 1.600 0 1 1 2.200 1.900" fill="none" stroke="#1b3a68" stroke-width="1"/>
<rect x="209" y="350.3" width="7.500" height="7.500" fill="url(#cbg)" stroke="#cdcddd" stroke-width="0.5"/>
<circle cx="226" cy="354" r="3.700" fill="url(#gl)" stroke="#3a6fae" stroke-width="0.6"/>
<path d="M223.7 356.4 A3.300 3.300 0 0 1 228.6 351.9" fill="none" stroke="#17325c" stroke-width="1.500" stroke-linecap="round"/>
<path d="M224.3 353.7 a1.600 1.600 0 1 1 2.200 1.900" fill="none" stroke="#1b3a68" stroke-width="1"/>
<rect x="327.2" y="350.3" width="7.500" height="7.500" fill="url(#cbg)" stroke="#cdcddd" stroke-width="0.5"/>
<circle cx="344" cy="354" r="3.700" fill="url(#gl)" stroke="#3a6fae" stroke-width="0.6"/>
<path d="M341.7 356.4 A3.300 3.300 0 0 1 346.6 351.9" fill="none" stroke="#17325c" stroke-width="1.500" stroke-linecap="round"/>
<path d="M342.3 353.7 a1.600 1.600 0 1 1 2.200 1.900" fill="none" stroke="#1b3a68" stroke-width="1"/>
<rect x="117.5" y="372.3" width="7.500" height="7.500" fill="url(#cbg)" stroke="#cdcddd" stroke-width="0.5"/>
<path d="M118.7 376.1 l2 2.200 l3.400 -4.400" fill="none" stroke="#1466e8" stroke-width="1.700"/>
<circle cx="134" cy="376" r="3.700" fill="url(#gl)" stroke="#3a6fae" stroke-width="0.6"/>
<path d="M131.7 378.4 A3.300 3.300 0 0 1 136.6 373.9" fill="none" stroke="#17325c" stroke-width="1.500" stroke-linecap="round"/>
<path d="M132.3 375.7 a1.600 1.600 0 1 1 2.200 1.900" fill="none" stroke="#1b3a68" stroke-width="1"/>
<rect x="3" y="438" width="84" height="20" fill="#000" fill-opacity="0.125" shape-rendering="crispEdges"/>
<text x="11.500" y="454" font-size="14" font-weight="bold" fill="#111">Volumen</text>
<text x="900.200" y="30.3" font-size="16.400" fill="#000" stroke="#fff" stroke-width="0.35">800.00</text>
<text x="900.200" y="73.3" font-size="16.400" fill="#000" stroke="#fff" stroke-width="0.35">775.00</text>
<text x="900.200" y="117.3" font-size="16.400" fill="#000" stroke="#fff" stroke-width="0.35">750.00</text>
<text x="900.200" y="160.3" font-size="16.400" fill="#000" stroke="#fff" stroke-width="0.35">725.00</text>
<text x="900.200" y="203.3" font-size="16.400" fill="#000" stroke="#fff" stroke-width="0.35">700.00</text>
<text x="900.200" y="246.3" font-size="16.400" fill="#000" stroke="#fff" stroke-width="0.35">675.00</text>
<text x="900.200" y="289.3" font-size="16.400" fill="#000" stroke="#fff" stroke-width="0.35">650.00</text>
<text x="900.200" y="332.3" font-size="16.400" fill="#000" stroke="#fff" stroke-width="0.35">625.00</text>
<text x="900.200" y="375.3" font-size="16.400" fill="#000" stroke="#fff" stroke-width="0.35">600.00</text>
<text x="900.200" y="418.3" font-size="16.400" fill="#000" stroke="#fff" stroke-width="0.35">575.00</text>
<text x="900.200" y="465.3" font-size="16.400" fill="#000" stroke="#fff" stroke-width="0.35">40.0M</text>
<text x="900.200" y="495.3" font-size="16.400" fill="#000" stroke="#fff" stroke-width="0.35">30.0M</text>
<text x="900.200" y="525.3" font-size="16.400" fill="#000" stroke="#fff" stroke-width="0.35">20.0M</text>
<text x="900.200" y="555.3" font-size="16.400" fill="#000" stroke="#fff" stroke-width="0.35">10.0M</text>
<text x="105.50" y="599" font-size="16" text-anchor="middle" textLength="67.82" lengthAdjust="spacingAndGlyphs" fill="#000" stroke="#fff" stroke-width="0.35">Aug. '25</text>
<text x="252.55" y="599" font-size="16" text-anchor="middle" textLength="73.95" lengthAdjust="spacingAndGlyphs" fill="#000" stroke="#fff" stroke-width="0.35">Sept. '25</text>
<text x="398.52" y="599" font-size="16" text-anchor="middle" textLength="66.69" lengthAdjust="spacingAndGlyphs" fill="#000" stroke="#fff" stroke-width="0.35">Okt. '25</text>
<text x="559.45" y="599" font-size="16" text-anchor="middle" textLength="69.50" lengthAdjust="spacingAndGlyphs" fill="#000" stroke="#fff" stroke-width="0.35">Nov. '25</text>
<text x="691.48" y="599" font-size="16" text-anchor="middle" textLength="68.05" lengthAdjust="spacingAndGlyphs" fill="#000" stroke="#fff" stroke-width="0.35">Dez. '25</text>
<path d="M893.500 270.500 L900 266.500 V262.500 Q900 261 901.500 261 H957.500 Q959 261 959 262.500 V278.500 Q959 280 957.500 280 H901.500 Q900 280 900 278.500 V274.500 Z" fill="#c8c832"/>
<text x="900.700" y="277" font-size="16.400" fill="#000" stroke="#c8c832" stroke-width="0.25">657.38</text>
<path d="M869 592.500 L872.500 588.800 V591 H875 V594 H872.500 V596.200 Z" fill="#888"/>
</svg></body></html>
